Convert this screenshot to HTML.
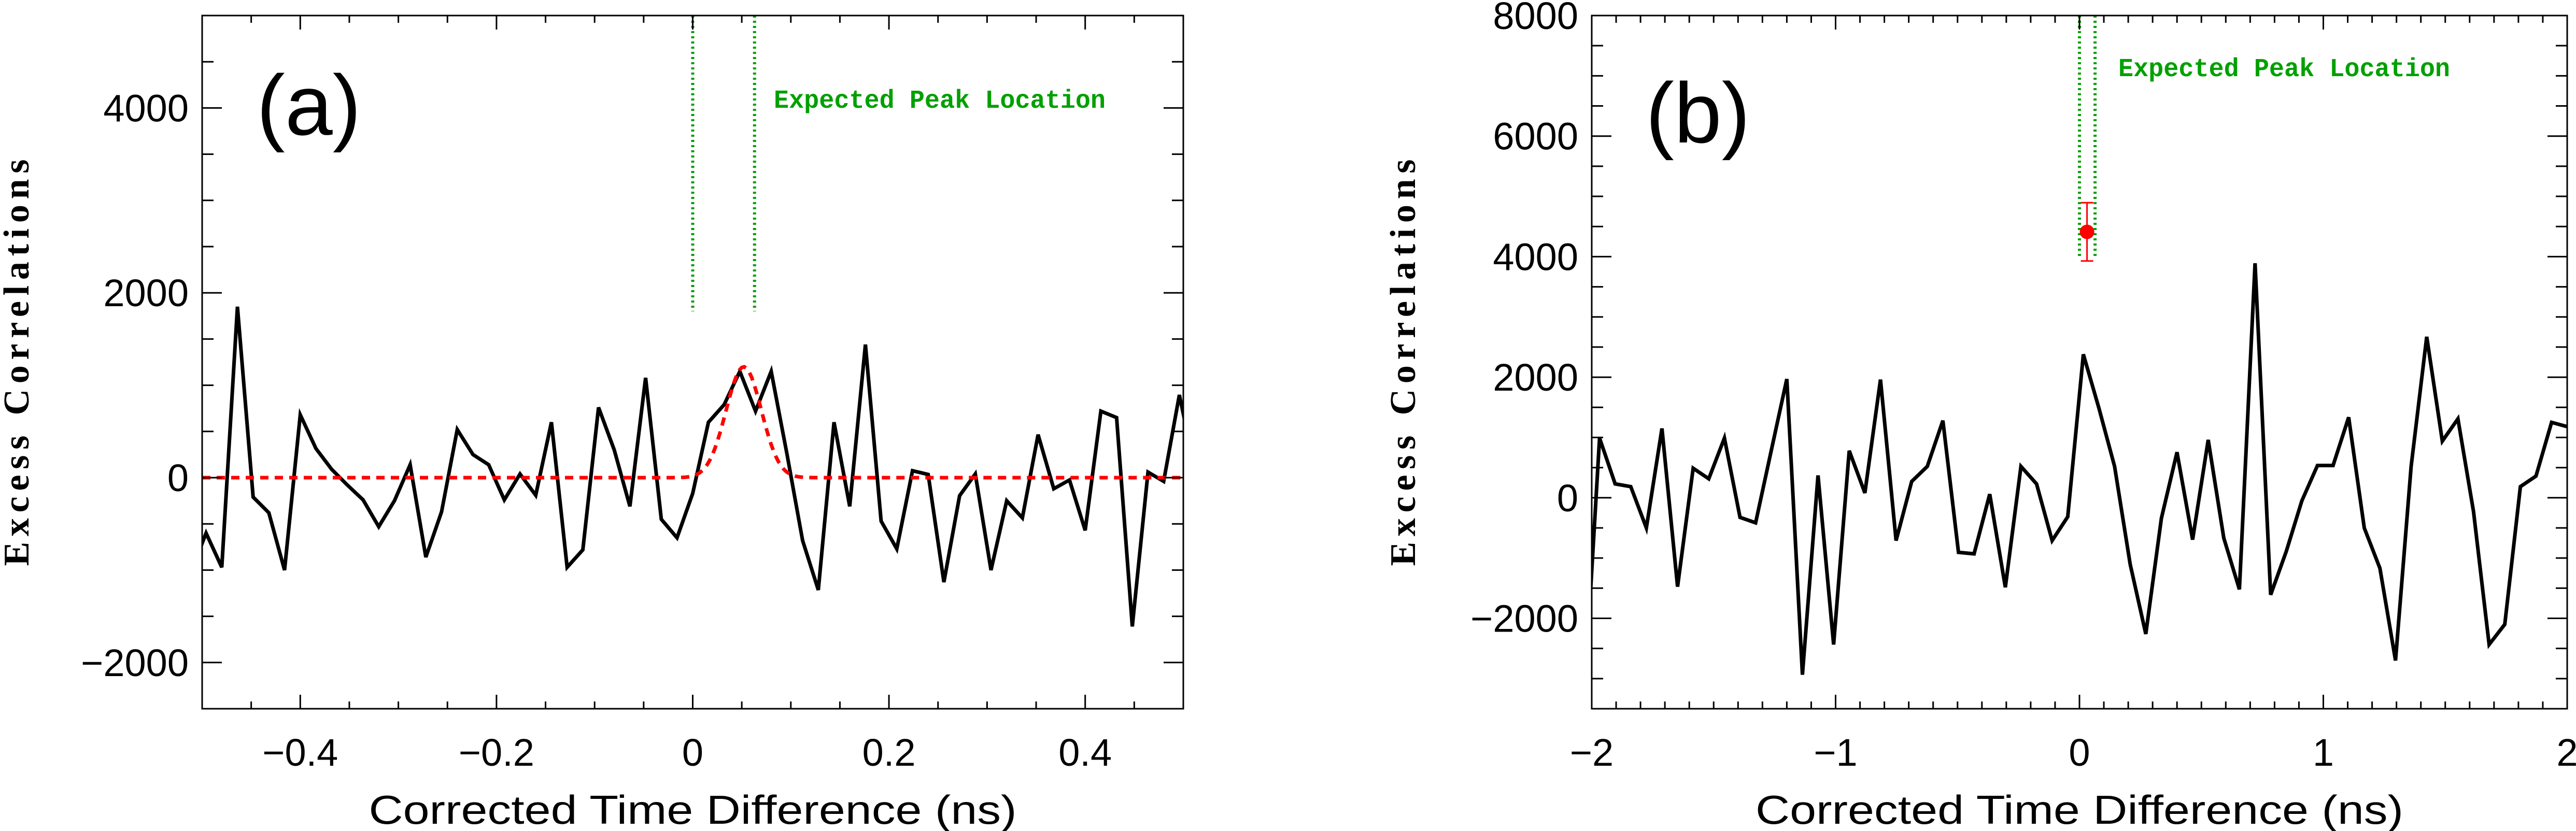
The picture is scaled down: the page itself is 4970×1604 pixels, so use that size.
<!DOCTYPE html>
<html><head><meta charset="utf-8"><style>
html,body{margin:0;padding:0;background:#fff;}
svg{display:block;}
.tick{font-family:"Liberation Sans",sans-serif;font-size:74px;fill:#000;}
.title{font-family:"Liberation Sans",sans-serif;font-size:78px;fill:#000;}
.ytitle{font-family:"Liberation Serif",serif;font-weight:bold;font-size:70px;fill:#000;}
.green{font-family:"Liberation Mono",monospace;font-weight:bold;font-size:50px;fill:#00a000;}
.plabel{font-family:"Liberation Sans",sans-serif;font-size:165px;fill:#000;}
</style></head><body>
<svg id="fig" width="4970" height="1604" viewBox="0 0 4970 1604" xmlns="http://www.w3.org/2000/svg"></svg>
<script>
// Panel (a) data
const aStartX = -0.512;
const aStep = 0.016;
const aValues = [-1040,-600,-970,1850,-210,-380,-1000,680,315,90,-80,-240,-530,-250,140,-860,-370,520,250,140,-240,40,-190,600,-970,-780,760,300,-310,1080,-450,-650,-170,600,790,1150,720,1150,260,-680,-1215,600,-310,1440,-470,-770,75,35,-1130,-195,40,-1000,-250,-435,465,-120,-25,-570,720,650,-1610,60,-40,895,80];
const aGaussAmp = [1200];
const aGaussCenter = [0.052];
const aGaussSigma = [0.018];
const aExpected = [0, 0.063];
const aXTicks = [-0.4,-0.2,0,0.2,0.4];
const aXTickLabels = ["\u22120.4","\u22120.2","0","0.2","0.4"];
const aYTicks = [-2000,0,2000,4000];
const aYTickLabels = ["\u22122000","0","2000","4000"];
// Panel (b) data
const bStartX = -2.032;
const bStep = 0.064;
const bValues = [-3430,990,230,185,-500,1150,-1475,490,315,990,-325,-415,780,1970,-2935,370,-2435,780,80,1960,-710,270,520,1280,-905,-930,60,-1485,520,230,-710,-315,2380,1485,520,-1105,-2260,-340,755,-695,960,-670,-1520,3890,-1610,-890,-50,535,535,1335,-500,-1170,-2700,520,2670,940,1310,-230,-2435,-2100,185,360,1250,1180];
const bPointX = [0.031];
const bPointY = [4411];
const bPointErrLo = [3928];
const bPointErrHi = [4895];
const bExpected = [0, 0.064];
const bXTicks = [-2,-1,0,1,2];
const bXTickLabels = ["\u22122","\u22121","0","1","2"];
const bYTicks = [-2000,0,2000,4000,6000,8000];
const bYTickLabels = ["\u22122000","0","2000","4000","6000","8000"];

const NS="http://www.w3.org/2000/svg";
const svg=document.getElementById('fig');
function mk(tag,attrs,parent){const e=document.createElementNS(NS,tag);for(const k in attrs)e.setAttribute(k,attrs[k]);(parent||svg).appendChild(e);return e;}

function panel(o){
  const g=mk('g',{});
  
  
  const sx=v=>o.L+(v-o.x0)/(o.x1-o.x0)*(o.R-o.L);
  const sy=v=>o.B-(v-o.y0)/(o.y1-o.y0)*(o.B-o.T);
  const cid='clip-'+o.name;
  const cp=mk('clipPath',{id:cid},g);
  mk('rect',{x:o.L,y:o.T,width:o.R-o.L,height:o.B-o.T},cp);
  o.expected.forEach(v=>{
    const l=mk('line',{x1:sx(v),x2:sx(v),y1:o.T,y2:sy(o.expY),stroke:'#00a000','stroke-width':6,'stroke-dasharray':'4 6'},g);
    
    
  });
  let d='';
  o.values.forEach((v,i)=>{d+=(i?'L':'M')+sx(o.sx0+i*o.step).toFixed(1)+','+sy(v).toFixed(1);});
  const p=mk('path',{d:d,fill:'none',stroke:'#000','stroke-width':7,'stroke-linejoin':'miter','clip-path':'url(#'+cid+')'},g);
  
  
  if(o.gauss){
    let gd='';
    for(let i=0;i<=400;i++){const x=o.x0+(o.x1-o.x0)*i/400;const y=o.gauss.a*Math.exp(-0.5*Math.pow((x-o.gauss.c)/o.gauss.s,2));gd+=(i?'L':'M')+sx(x).toFixed(1)+','+sy(y).toFixed(1);}
    const gp=mk('path',{d:gd,fill:'none',stroke:'#ff0000','stroke-width':7,'stroke-dasharray':'16 12'},g);
    
    
  }
  if(o.point){
    const pt=o.point;
    const eb=mk('path',{d:`M${sx(pt.x)},${sy(pt.lo)}V${sy(pt.hi)}M${sx(pt.x)-12},${sy(pt.lo)}h24M${sx(pt.x)-12},${sy(pt.hi)}h24`,stroke:'#ff0000','stroke-width':3,fill:'none'},g);
    
    
    const c=mk('circle',{cx:sx(pt.x),cy:sy(pt.y),r:14,fill:'#ff0000'},g);
    
    
  }
  const fr=mk('rect',{x:o.L,y:o.T,width:o.R-o.L,height:o.B-o.T,fill:'none',stroke:'#000','stroke-width':3},g);
  
  
  let td='';
  for(let v=o.x0;v<=o.x1+1e-9;v+=o.xMinor){
    const major=o.xTicks.some(t=>Math.abs(t-v)<1e-6);const len=major?27:14;const x=sx(v);
    td+=`M${x},${o.B}v${-len}M${x},${o.T}v${len}`;
  }
  for(let v=o.y0;v<=o.y1+1e-9;v+=o.yMinor){
    const major=o.yTicks.some(t=>Math.abs(t-v)<1e-6);const len=major?38:22;const y=sy(v);
    td+=`M${o.L},${y}h${len}M${o.R},${y}h${-len}`;
  }
  const tk=mk('path',{d:td,stroke:'#000','stroke-width':3,fill:'none'},g);
  
  
  o.xTicks.forEach((v,i)=>{
    const t=mk('text',{x:sx(v),y:1478,'text-anchor':'middle',class:'tick'},g);t.textContent=o.xLabels[i];
    
    
  });
  o.yTicks.forEach((v,i)=>{
    const t=mk('text',{x:o.L-26,y:sy(v)+26,'text-anchor':'end',class:'tick'},g);t.textContent=o.yLabels[i];
    
    
  });
  const xt=mk('text',{x:(o.L+o.R)/2,y:1590,'text-anchor':'middle',class:'title',textLength:1250,lengthAdjust:'spacingAndGlyphs'},g);
  xt.textContent='Corrected Time Difference (ns)';
  
  
  const yt=mk('text',{x:0,y:0,'text-anchor':'middle',class:'ytitle',transform:`translate(${o.yTitleX},${o.yTitleY}) rotate(-90)`,textLength:785,lengthAdjust:'spacing'},g);
  yt.textContent='Excess  Correlations';
  
  
  const gt=mk('text',{x:o.gx,y:o.gy,class:'green',textLength:640,lengthAdjust:'spacingAndGlyphs'},g);
  gt.textContent='Expected Peak Location';
  
  
  const pl=mk('text',{x:o.px,y:o.py,class:'plabel'},g);
  pl.textContent=o.plabel;
  
  
}

panel({name:'panel-a',L:390,R:2283,T:30,B:1368,x0:-0.5,x1:0.5,y0:-2500,y1:5000,
  values:aValues,sx0:aStartX,step:aStep,expected:aExpected,expY:1800,
  gauss:{a:aGaussAmp[0],c:aGaussCenter[0],s:aGaussSigma[0]},
  xTicks:aXTicks,xLabels:aXTickLabels,yTicks:aYTicks,yLabels:aYTickLabels,xMinor:0.05,yMinor:500,
  yTitleX:55,yTitleY:700,gx:1493,gy:208,px:495,py:260,plabel:'(a)'});
panel({name:'panel-b',L:3071,R:4953,T:30,B:1368,x0:-2,x1:2,y0:-3500,y1:8000,
  values:bValues,sx0:bStartX,step:bStep,expected:bExpected,expY:4000,
  point:{x:bPointX[0],y:bPointY[0],lo:bPointErrLo[0],hi:bPointErrHi[0]},
  xTicks:bXTicks,xLabels:bXTickLabels,yTicks:bYTicks,yLabels:bYTickLabels,xMinor:0.1,yMinor:500,
  yTitleX:2730,yTitleY:700,gx:4087,gy:147,px:3175,py:275,plabel:'(b)'});
</script>
</body></html>
